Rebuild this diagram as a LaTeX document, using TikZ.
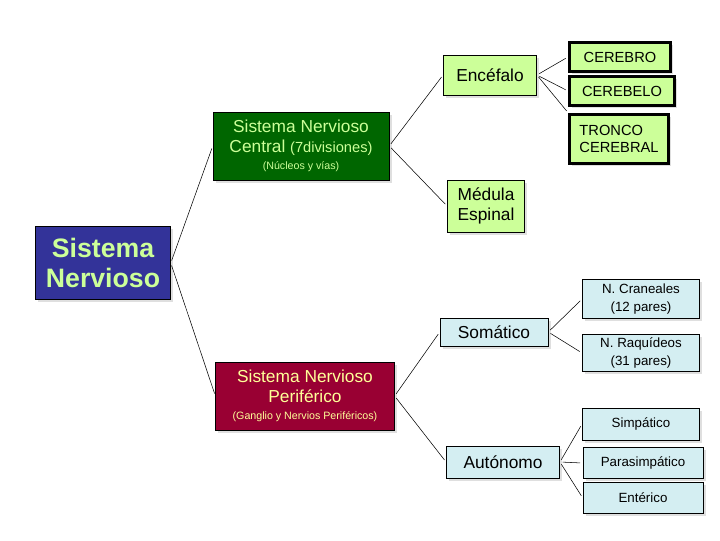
\documentclass[tikz,border=0pt]{standalone}
\usepackage{fontspec}
\setmainfont{Liberation Sans}
\usetikzlibrary{shadows}
\definecolor{lgreen}{HTML}{CCFF99}
\definecolor{lcyan}{HTML}{D4EEF2}
\definecolor{dgreen}{HTML}{006600}
\definecolor{dblue}{HTML}{333399}
\definecolor{dred}{HTML}{990033}
\definecolor{ltext}{HTML}{CCFF99}
\definecolor{ytext}{HTML}{FFFF99}
\tikzset{
  box/.style={draw, rectangle, inner sep=1pt, align=center, drop shadow={shadow xshift=2pt, shadow yshift=-2pt, opacity=0.25}},
  gbox/.style={box, fill=lgreen, font=\fontsize{13}{15}\selectfont},
  pbox/.style={gbox, line width=2pt, align=left, font=\fontsize{11}{13}\selectfont},
  cbox/.style={box, fill=lcyan, font=\fontsize{10}{13}\selectfont},
  bbox/.style={box, font=\fontsize{13}{15}\selectfont},
  link/.style={draw, thin, shorten <=2pt, shorten >=2pt}
}
\begin{document}
\begin{tikzpicture}[x=0.75pt, y=-0.75pt]
  \useasboundingbox (0,0) rectangle (720,540);
  % Nodes
  \node[box, fill=dblue, text=ltext, font=\bfseries\fontsize{20}{22}\selectfont, minimum width=101.25pt, minimum height=55pt] (sn) at (103,263) {Sistema\\Nervioso};
  \node[bbox, fill=dgreen, text=ltext, minimum width=132pt, minimum height=51pt] (snc) at (301,146) {Sistema Nervioso\\Central {\fontsize{11}{13}\selectfont(7divisiones)}\\[-2pt]{\fontsize{8}{9}\selectfont(Núcleos y vías)}};
  \node[bbox, fill=dred, text=ytext, minimum width=134pt, minimum height=51pt] (snp) at (305,396) {Sistema Nervioso\\Periférico\\[-2pt]{\fontsize{8}{9}\selectfont(Ganglio y Nervios Periféricos)}};
  \node[gbox, minimum width=70pt, minimum height=30pt] (enc) at (490,75) {Encéfalo};
  \node[gbox, minimum width=58pt, minimum height=39pt] (med) at (486,206) {Médula\\Espinal};
  \node[pbox, minimum width=76pt, minimum height=22pt] (cer) at (620,57) {CEREBRO};
  \node[pbox, minimum width=79pt, minimum height=22pt] (cbl) at (622,91) {CEREBELO};
  \node[pbox, minimum width=74pt, minimum height=37pt] (tro) at (619,139) {TRONCO\\CEREBRAL};
  \node[gbox, fill=lcyan, minimum width=81pt, minimum height=21pt] (som) at (494,332) {Somático};
  \node[gbox, fill=lcyan, minimum width=85pt, minimum height=24pt] (aut) at (503,462) {Autónomo};
  \node[cbox, minimum width=88pt, minimum height=29pt] (cra) at (641,299) {N. Craneales\\(12 pares)};
  \node[cbox, minimum width=88pt, minimum height=28pt] (raq) at (641,353) {N. Raquídeos\\(31 pares)};
  \node[cbox, minimum width=88pt, minimum height=24pt] (sim) at (641,424) {Simpático};
  \node[cbox, minimum width=90pt, minimum height=23pt] (par) at (643,463) {Parasimpático};
  \node[cbox, minimum width=90pt, minimum height=23pt] (ent) at (643,498) {Entérico};

  % Connectors
  \draw[link] (sn.east) -- (snc.west);
  \draw[link] (sn.east) -- (snp.west);
  \draw[link] (snc.east) -- (enc.west);
  \draw[link] (snc.east) -- (med.west);
  \draw[link] (enc.east) -- (cer.west);
  \draw[link] (enc.east) -- (cbl.west);
  \draw[link] (enc.east) -- (tro.north west);
  \draw[link] (snp.east) -- (som.west);
  \draw[link] (snp.east) -- (aut.west);
  \draw[link] (som.east) -- (cra.west);
  \draw[link] (som.east) -- (raq.west);
  \draw[link] (aut.east) -- (sim.west);
  \draw[link] (aut.east) -- (par.west);
  \draw[link] (aut.east) -- (ent.west);
\end{tikzpicture}
\end{document}
